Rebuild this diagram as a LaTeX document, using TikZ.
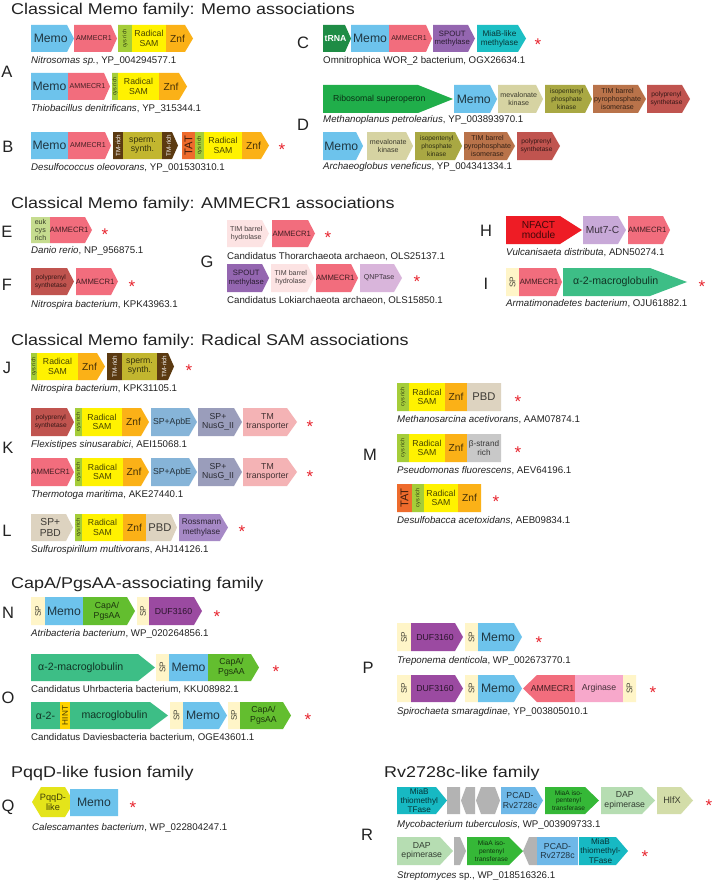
\documentclass[tikz,border=0pt]{standalone}
\usepackage{fontspec}
\setmainfont{Liberation Sans}
\newfontfamily\ttlfont[FakeStretch=1.15]{Liberation Sans}
\definecolor{ctxt}{HTML}{222222}
\definecolor{cstar}{HTML}{E8242E}
\definecolor{cmemo}{HTML}{6DC3EC}
\definecolor{cammecr}{HTML}{F26D7D}
\definecolor{ccys}{HTML}{A5CD39}
\definecolor{crsam}{HTML}{FFF200}
\definecolor{cznf}{HTML}{FBB117}
\definecolor{ctmrich}{HTML}{5B3A11}
\definecolor{csperm}{HTML}{C2B62F}
\definecolor{ctat}{HTML}{EE6B2C}
\definecolor{ctrna}{HTML}{1E8C45}
\definecolor{cspout}{HTML}{9466B0}
\definecolor{cmiablike}{HTML}{1CBFC4}
\definecolor{cribo}{HTML}{20AE4A}
\definecolor{cmeva}{HTML}{D6D3A2}
\definecolor{cipk}{HTML}{A9A843}
\definecolor{ctimiso}{HTML}{B9734A}
\definecolor{cpolyp}{HTML}{C0544F}
\definecolor{ceukcys}{HTML}{C6DC8F}
\definecolor{ctimhyd}{HTML}{FCE3E3}
\definecolor{cqnpt}{HTML}{D9B5DB}
\definecolor{cnfact}{HTML}{EE1C25}
\definecolor{cmut}{HTML}{C8A9D8}
\definecolor{csp}{HTML}{FFF5C8}
\definecolor{ca2m}{HTML}{3DBE86}
\definecolor{capbe}{HTML}{86B4D8}
\definecolor{cnusg}{HTML}{9A9DBB}
\definecolor{ctmtr}{HTML}{F4B3B5}
\definecolor{cpbd}{HTML}{DDD3C0}
\definecolor{cross}{HTML}{A689C6}
\definecolor{cbstr}{HTML}{C8C8C8}
\definecolor{ccapa}{HTML}{63BE2F}
\definecolor{cduf}{HTML}{9B4AA1}
\definecolor{chint}{HTML}{FFD200}
\definecolor{carg}{HTML}{F7A8CB}
\definecolor{cpqqd}{HTML}{E4E41A}
\definecolor{cmiab}{HTML}{17B9C3}
\definecolor{cgry}{HTML}{B3B3B3}
\definecolor{cpcad}{HTML}{6EB8E8}
\definecolor{cmiaa}{HTML}{35B837}
\definecolor{cdap}{HTML}{B6DDB2}
\definecolor{chlfx}{HTML}{D3DDA9}
\newcounter{gnc}
% right-pointing gene: x1 x2 y1 y2 tip colour opts text
\newcommand\gn[8]{%
  \stepcounter{gnc}%
  \fill[#6] (#1,#3) -- ({#2-#5},#3) -- (#2,{(#3+#4)/2}) -- ({#2-#5},#4) -- (#1,#4) -- cycle;
  \node[gtxt, text=#6!28!black, #7] (g\thegnc) at ({(#1+#2-#5)/2+#5/4},{(#3+#4)/2}) {#8};}
% left-pointing gene
\newcommand\gnl[8]{%
  \stepcounter{gnc}%
  \fill[#6] ({#1+#5},#3) -- (#2,#3) -- (#2,#4) -- ({#1+#5},#4) -- (#1,{(#3+#4)/2}) -- cycle;
  \node[gtxt, text=#6!28!black, #7] (g\thegnc) at ({(#1+#2+#5)/2-#5/4},{(#3+#4)/2}) {#8};}
% hexagon
\newcommand\gnh[8]{%
  \stepcounter{gnc}%
  \fill[#6] ({#1+#5},#3) -- ({#2-#5},#3) -- (#2,{(#3+#4)/2}) -- ({#2-#5},#4) -- ({#1+#5},#4) -- (#1,{(#3+#4)/2}) -- cycle;
  \node[gtxt, text=#6!28!black, #7] (g\thegnc) at ({(#1+#2)/2},{(#3+#4)/2}) {#8};}
\newcommand\st[2]{\stepcounter{gnc}\node[stx] (s\thegnc) at (#1,{#2+9.5}) {*};}
\newcommand\cp[3]{\stepcounter{gnc}\node[captx] (c\thegnc) at (#1,#2) {#3};}
\newcommand\lb[3]{\node[lbl] (l#3) at (#1,#2) {#3};}
\tikzset{
  gtxt/.style={inner sep=0pt, align=center, font=\fontsize{8}{9}\selectfont},
  f55/.style={font=\fontsize{5.5}{6}\selectfont},
  f6w/.style={font=\fontsize{6.3}{7}\selectfont, text=white},
  f65/.style={font=\fontsize{6.6}{7.7}\selectfont},
  f7/.style={font=\fontsize{7.1}{8.1}\selectfont},
  f75/.style={font=\fontsize{7.7}{8.7}\selectfont},
  f8/.style={font=\fontsize{8.2}{9.2}\selectfont},
  f85/.style={font=\fontsize{8.7}{9.6}\selectfont},
  f9/.style={font=\fontsize{9.2}{10}\selectfont},
  f10/.style={font=\fontsize{10.2}{10.8}\selectfont},
  f105/.style={font=\fontsize{10.6}{11}\selectfont},
  f11/.style={font=\fontsize{11.2}{12}\selectfont},
  f12/.style={font=\fontsize{12.2}{13}\selectfont},
  ttl/.style={anchor=base west, inner sep=0pt, font=\ttlfont\fontsize{15.6}{17}\selectfont, text=ctxt},
  lbl/.style={inner sep=0pt, font=\fontsize{16.5}{18}\selectfont, text=ctxt},
  captx/.style={anchor=base west, inner sep=0pt, font=\fontsize{9.7}{11}\selectfont, text=ctxt},
  stx/.style={anchor=base, inner sep=0pt, font=\fontsize{17}{17}\selectfont, text=cstar},
}
\begin{document}
\begin{tikzpicture}[x=1pt,y=-1pt]
\fill[white] (0,0) rectangle (713,880);
\useasboundingbox (0,0) rectangle (713,880);
% ---------- titles ----------
\node[ttl] (t1) at (11,15) {Classical Memo family: Memo associations};
\node[ttl] (t2) at (11,208) {Classical Memo family: AMMECR1 associations};
\node[ttl] (t3) at (11,345) {Classical Memo family: Radical SAM associations};
\node[ttl] (t4) at (11,588) {CapA/PgsAA-associating family};
\node[ttl] (t5) at (11,777) {PqqD-like fusion family};
\node[ttl] (t6) at (384,777) {Rv2728c-like family};
% ---------- letters ----------
\lb{7}{72}{A} \lb{8}{147}{B} \lb{303}{43}{C} \lb{303}{125}{D}
\lb{7}{232}{E} \lb{7}{285}{F} \lb{207}{262}{G} \lb{486}{231}{H} \lb{486}{284}{I}
\lb{7}{368}{J} \lb{8}{448}{K} \lb{7}{531}{L} \lb{370}{455}{M}
\lb{8}{613}{N} \lb{8}{698}{O} \lb{368}{668}{P} \lb{8}{807}{Q} \lb{367}{835}{R}
% ---------- A ----------
\gn{31}{74}{25}{52}{7}{cmemo}{f12}{Memo}
\gn{74}{117}{25}{52}{6}{cammecr}{f7}{AMMECR1}
\gn{118}{132}{25}{52}{0}{ccys}{f55,rotate=90}{cys rich}
\gn{132}{166}{25}{52}{0}{crsam}{f85}{Radical\\SAM}
\gn{166}{193}{25}{52}{8}{cznf}{f10}{Znf}
\cp{31}{64}{\textit{Nitrosomas sp.}, YP\_004294577.1}
\gn{31}{68}{73}{100}{0}{cmemo}{f12}{Memo}
\gn{68}{110}{73}{100}{6}{cammecr}{f7}{AMMECR1}
\gn{112}{118}{73}{100}{0}{ccys}{f55,rotate=90}{cys rich}
\gn{118}{159}{73}{100}{0}{crsam}{f85}{Radical\\SAM}
\gn{159}{187}{73}{100}{8}{cznf}{f10}{Znf}
\cp{31}{112}{\textit{Thiobacillus denitrificans}, YP\_315344.1}
% ---------- B ----------
\gn{31}{68}{132}{159}{0}{cmemo}{f12}{Memo}
\gn{68}{111}{132}{159}{6}{cammecr}{f7}{AMMECR1}
\gn{113}{123}{132}{159}{0}{ctmrich}{f6w,rotate=90}{TM-rich}
\gn{123}{162}{132}{159}{0}{csperm}{f85}{sperm.\\synth.}
\gn{162}{178}{132}{159}{6}{ctmrich}{f6w,rotate=90}{TM-rich}
\gn{182}{195}{132}{159}{0}{ctat}{f11,rotate=90}{TAT}
\gn{195}{204}{132}{159}{0}{ccys}{f55,rotate=90}{cys rich}
\gn{204}{242}{132}{159}{0}{crsam}{f85}{Radical\\SAM}
\gn{242}{269}{132}{159}{8}{cznf}{f10}{Znf}
\st{282}{146}
\cp{31}{170}{\textit{Desulfococcus oleovorans}, YP\_001530310.1}
% ---------- C ----------
\gn{323}{351}{25}{52}{6}{ctrna}{font=\fontsize{8.7}{9.6}\selectfont\bfseries,text=white}{tRNA}
\gn{351}{389}{25}{52}{0}{cmemo}{f12}{Memo}
\gn{389}{432}{25}{52}{6}{cammecr}{f7}{AMMECR1}
\gn{433}{475}{25}{52}{7}{cspout}{f75}{SPOUT\\methylase}
\gn{477}{526}{25}{52}{8}{cmiablike}{f8}{MiaB-like\\methylase}
\st{538}{41}
\cp{323}{64}{Omnitrophica WOR\_2 bacterium, OGX26634.1}
% ---------- D ----------
\gn{323}{453}{85}{113}{35}{cribo}{f85}{Ribosomal superoperon}
\gn{454}{497}{85}{113}{7}{cmemo}{f12}{Memo}
\gn{498}{543}{85}{113}{7}{cmeva}{f7}{mevalonate\\kinase}
\gn{545}{592}{85}{113}{7}{cipk}{f65}{isopentenyl\\phosphate\\kinase}
\gn{593}{646}{85}{113}{8}{ctimiso}{f7}{TIM barrel\\pyrophosphate\\isomerase}
\gn{647}{690}{85}{113}{8}{cpolyp}{f65}{polyprenyl\\synthetase}
\cp{323}{122}{\textit{Methanoplanus petrolearius}, YP\_003893970.1}
\gn{323}{363}{132}{160}{7}{cmemo}{f12}{Memo}
\gn{367}{413}{132}{160}{7}{cmeva}{f7}{mevalonate\\kinase}
\gn{415}{462}{132}{160}{7}{cipk}{f65}{isopentenyl\\phosphate\\kinase}
\gn{464}{515}{132}{160}{8}{ctimiso}{f7}{TIM barrel\\pyrophosphate\\isomerase}
\gn{517}{560}{132}{160}{8}{cpolyp}{f65}{polyprenyl\\synthetase}
\cp{323}{169}{\textit{Archaeoglobus veneficus}, YP\_004341334.1}
% ---------- E ----------
\gn{31}{50}{217}{243}{0}{ceukcys}{f7}{euk\\cys\\rich}
\gn{50}{92}{217}{243}{7}{cammecr}{f75}{AMMECR1}
\st{105}{231}
\cp{31}{253}{\textit{Danio rerio}, NP\_956875.1}
% ---------- F ----------
\gn{31}{74}{268}{295}{7}{cpolyp}{f65}{polyprenyl\\synthetase}
\gn{76}{118}{268}{295}{7}{cammecr}{f75}{AMMECR1}
\st{132}{283}
\cp{31}{307}{\textit{Nitrospira bacterium}, KPK43963.1}
% ---------- G ----------
\gn{227}{269}{220}{247}{7}{ctimhyd}{f7}{TIM barrel\\hydrolase}
\gn{272}{315}{220}{247}{7}{cammecr}{f75}{AMMECR1}
\st{328}{234}
\cp{227}{259}{Candidatus Thorarchaeota archaeon, OLS25137.1}
\gn{227}{269}{264}{292}{7}{cspout}{f75}{SPOUT\\methylase}
\gn{271}{314}{264}{292}{7}{ctimhyd}{f7}{TIM barrel\\hydrolase}
\gn{316}{358}{264}{292}{7}{cammecr}{f75}{AMMECR1}
\gn{360}{402}{264}{292}{8}{cqnpt}{f7}{QNPTase}
\st{417}{278}
\cp{227}{303}{Candidatus Lokiarchaeota archaeon, OLS15850.1}
% ---------- H ----------
\gn{506}{582}{216}{244}{22}{cnfact}{f10}{NFACT\\module}
\gn{583}{626}{216}{244}{8}{cmut}{f10}{Mut7-C}
\gn{628}{670}{216}{244}{7}{cammecr}{f75}{AMMECR1}
\cp{506}{255}{\textit{Vulcanisaeta distributa}, ADN50274.1}
% ---------- I ----------
\gn{506}{519}{268}{296}{0}{csp}{f8,rotate=90}{SP}
\gn{519}{562}{268}{296}{6}{cammecr}{f75}{AMMECR1}
\gn{563}{687}{268}{296}{37}{ca2m}{f105}{α-2-macroglobulin}
\st{702}{283}
\cp{506}{306}{\textit{Armatimonadetes bacterium}, OJU61882.1}
% ---------- J ----------
\gn{31}{37}{353}{380}{0}{ccys}{f55,rotate=90}{cys rich}
\gn{37}{78}{353}{380}{0}{crsam}{f85}{Radical\\SAM}
\gn{78}{105}{353}{380}{8}{cznf}{f10}{Znf}
\gn{107}{122}{353}{380}{0}{ctmrich}{f6w,rotate=90}{TM-rich}
\gn{122}{157}{353}{380}{0}{csperm}{f85}{sperm.\\synth.}
\gn{157}{174}{353}{380}{6}{ctmrich}{f6w,rotate=90}{TM-rich}
\st{189}{367}
\cp{31}{391}{\textit{Nitrospira bacterium}, KPK31105.1}
% ---------- K ----------
\gn{31}{74}{408}{436}{7}{cpolyp}{f65}{polyprenyl\\synthetase}
\gn{75}{82}{408}{436}{0}{ccys}{f55,rotate=90}{cys rich}
\gn{82}{122}{408}{436}{0}{crsam}{f85}{Radical\\SAM}
\gn{122}{149}{408}{436}{8}{cznf}{f10}{Znf}
\gn{151}{197}{408}{436}{8}{capbe}{f85}{SP+ApbE}
\gn{198}{242}{408}{436}{8}{cnusg}{f85}{SP+\\NusG\_II}
\gn{243}{297}{408}{436}{10}{ctmtr}{f85}{TM\\transporter}
\st{310}{423}
\cp{31}{447}{\textit{Flexistipes sinusarabici}, AEI15068.1}
\gn{31}{74}{458}{486}{7}{cammecr}{f75}{AMMECR1}
\gn{75}{82}{458}{486}{0}{ccys}{f55,rotate=90}{cys rich}
\gn{82}{123}{458}{486}{0}{crsam}{f85}{Radical\\SAM}
\gn{123}{149}{458}{486}{8}{cznf}{f10}{Znf}
\gn{151}{197}{458}{486}{8}{capbe}{f85}{SP+ApbE}
\gn{198}{242}{458}{486}{8}{cnusg}{f85}{SP+\\NusG\_II}
\gn{243}{297}{458}{486}{10}{ctmtr}{f85}{TM\\transporter}
\st{310}{473}
\cp{31}{497}{\textit{Thermotoga maritima}, AKE27440.1}
% ---------- L ----------
\gn{31}{73}{514}{541}{7}{cpbd}{f10}{SP+\\PBD}
\gn{75}{82}{514}{541}{0}{ccys}{f55,rotate=90}{cys rich}
\gn{82}{123}{514}{541}{0}{crsam}{f85}{Radical\\SAM}
\gn{123}{146}{514}{541}{0}{cznf}{f10}{Znf}
\gn{146}{177}{514}{541}{6}{cpbd}{f11}{PBD}
\gn{179}{228}{514}{541}{8}{cross}{f8}{Rossmann\\methylase}
\st{242}{528}
\cp{31}{552}{\textit{Sulfurospirillum multivorans}, AHJ14126.1}
% ---------- M ----------
\gn{397}{409}{383}{411}{0}{ccys}{f55,rotate=90}{cys rich}
\gn{409}{445}{383}{411}{0}{crsam}{f85}{Radical\\SAM}
\gn{445}{467}{383}{411}{0}{cznf}{f10}{Znf}
\gn{467}{501}{383}{411}{0}{cpbd}{f11}{PBD}
\st{518}{398}
\cp{397}{422}{\textit{Methanosarcina acetivorans}, AAM07874.1}
\gn{397}{409}{434}{462}{0}{ccys}{f55,rotate=90}{cys rich}
\gn{409}{445}{434}{462}{0}{crsam}{f85}{Radical\\SAM}
\gn{445}{467}{434}{462}{0}{cznf}{f10}{Znf}
\gn{467}{501}{434}{462}{0}{cbstr}{f8}{β-strand\\rich}
\st{518}{449}
\cp{397}{473}{\textit{Pseudomonas fluorescens}, AEV64196.1}
\gn{397}{412}{484}{512}{0}{ctat}{f11,rotate=90}{TAT}
\gn{412}{424}{484}{512}{0}{ccys}{f55,rotate=90}{cys rich}
\gn{424}{458}{484}{512}{0}{crsam}{f85}{Radical\\SAM}
\gn{458}{481}{484}{512}{0}{cznf}{f10}{Znf}
\st{496}{498}
\cp{397}{523}{\textit{Desulfobacca acetoxidans}, AEB09834.1}
% ---------- N ----------
\gn{31}{45}{597}{625}{0}{csp}{f8,rotate=90}{SP}
\gn{45}{83}{597}{625}{0}{cmemo}{f12}{Memo}
\gn{83}{135}{597}{625}{8}{ccapa}{f85}{CapA/\\PgsAA}
\gn{137}{149}{597}{625}{0}{csp}{f8,rotate=90}{SP}
\gn{149}{202}{597}{625}{8}{cduf}{f85}{DUF3160}
\st{217}{613}
\cp{31}{636}{\textit{Atribacteria bacterium}, WP\_020264856.1}
% ---------- O ----------
\gn{31}{155}{654}{681}{17}{ca2m}{f105,xshift=-8pt}{α-2-macroglobulin}
\gn{156}{169}{654}{681}{0}{csp}{f8,rotate=90}{SP}
\gn{169}{208}{654}{681}{0}{cmemo}{f12}{Memo}
\gn{208}{259}{654}{681}{8}{ccapa}{f85}{CapA/\\PgsAA}
\st{276}{668}
\cp{31}{692}{Candidatus Uhrbacteria bacterium, KKU08982.1}
\gn{31}{60}{702}{729}{0}{ca2m}{f105}{α-2-}
\gn{60}{70}{702}{729}{0}{chint}{f8,rotate=90}{HINT}
\gn{70}{168}{702}{729}{18}{ca2m}{f105}{macroglobulin}
\gn{170}{183}{702}{729}{0}{csp}{f8,rotate=90}{SP}
\gn{183}{227}{702}{729}{8}{cmemo}{f12}{Memo}
\gn{228}{240}{702}{729}{0}{csp}{f8,rotate=90}{SP}
\gn{240}{291}{702}{729}{8}{ccapa}{f85}{CapA/\\PgsAA}
\st{308}{716}
\cp{31}{740}{Candidatus Daviesbacteria bacterium, OGE43601.1}
% ---------- P ----------
\gn{397}{411}{623}{651}{0}{csp}{f8,rotate=90}{SP}
\gn{411}{463}{623}{651}{8}{cduf}{f85}{DUF3160}
\gn{465}{478}{623}{651}{0}{csp}{f8,rotate=90}{SP}
\gn{478}{522}{623}{651}{8}{cmemo}{f12}{Memo}
\st{539}{639}
\cp{397}{663}{\textit{Treponema denticola}, WP\_002673770.1}
\gn{397}{411}{675}{702}{0}{csp}{f8,rotate=90}{SP}
\gn{411}{463}{675}{702}{8}{cduf}{f85}{DUF3160}
\gn{465}{478}{675}{702}{0}{csp}{f8,rotate=90}{SP}
\gn{478}{522}{675}{702}{8}{cmemo}{f12}{Memo}
\gnl{523}{575}{675}{702}{14}{cammecr}{f85}{AMMECR1}
\gn{575}{623}{675}{702}{0}{carg}{f85}{Arginase}
\gn{623}{636}{675}{702}{0}{csp}{f8,rotate=90}{SP}
\st{653}{689}
\cp{397}{714}{\textit{Spirochaeta smaragdinae}, YP\_003805010.1}
% ---------- Q ----------
\gnh{32}{74}{787}{817}{9}{cpqqd}{f9}{PqqD-\\like}
\gn{70}{118}{789}{816}{0}{cmemo}{f12}{Memo}
\st{133}{804}
\cp{32}{830}{\textit{Calescamantes bacterium}, WP\_022804247.1}
% ---------- R ----------
\gn{397}{447}{787}{814}{11}{cmiab}{f8}{MiaB\\thiomethyl\\TFase}
\gn{447}{460}{787}{814}{0}{cgry}{}{}
\gnl{461}{475}{787}{814}{5}{cgry}{}{}
\gnh{476}{500}{787}{814}{5}{cgry}{}{}
\gn{501}{543}{787}{814}{8}{cpcad}{f85}{PCAD-\\Rv2728c}
\gn{545}{599}{787}{814}{14}{cmiaa}{f65}{MiaA iso-\\pentenyl\\transferase}
\gn{601}{655}{787}{814}{13}{cdap}{f85}{DAP\\epimerase}
\gn{657}{693}{787}{814}{12}{chlfx}{f9}{HlfX}
\st{709}{802}
\cp{397}{827}{\textit{Mycobacterium tuberculosis}, WP\_003909733.1}
\gn{397}{453}{837}{865}{13}{cdap}{f85}{DAP\\epimerase}
\gn{454}{466}{837}{865}{6}{cgry}{}{}
\gn{467}{523}{837}{865}{14}{cmiaa}{f65}{MiaA iso-\\pentenyl\\transferase}
\gnl{523}{537}{837}{865}{6}{cgry}{}{}
\gn{537}{578}{837}{865}{0}{cpcad}{f85}{PCAD-\\Rv2728c}
\gn{579}{628}{837}{865}{12}{cmiab}{f8}{MiaB\\thiomethyl-\\TFase}
\st{645}{853}
\cp{397}{878}{\textit{Streptomyces} sp., WP\_018516326.1}
\end{tikzpicture}
\end{document}
